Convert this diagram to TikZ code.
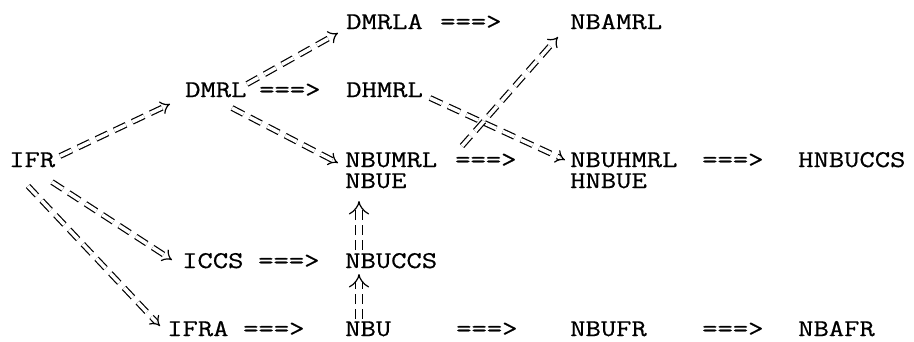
\documentclass[tikz,border=0pt]{standalone}
\usepackage{fontspec}
\newfontfamily\twfont[FakeStretch=1.24,FakeBold=0.6]{Latin Modern Mono}
\usetikzlibrary{arrows.meta,calc}
\tikzset{
  lbl/.style={anchor=base west, inner sep=0pt, font=\twfont\fontsize{24}{26}\selectfont},
  dbl/.style={draw=black, double=white, double distance=3.5pt, line width=1.2pt,
              dash pattern=on 13pt off 7pt, -{Implies[scale=1.7]}, line cap=butt},
  vdbl/.style={dbl, double distance=6pt, dash pattern=on 10pt off 5pt, -{Implies[scale=2.6]}}
}
\begin{document}
\begin{tikzpicture}[x=1pt,y=-1pt]
\useasboundingbox (0,0) rectangle (914,341);
% row A
\node[lbl] (dmrla) at (346,29) {DMRLA};
\node[lbl] (e2) at (440,29) {===>};
\node[lbl] (nbamrl) at (570,29) {NBAMRL};
% row B
\node[lbl] (dmrl) at (185,97) {DMRL};
\node[lbl] (e1) at (259,97) {===>};
\node[lbl] (dhmrl) at (346,97) {DHMRL};
% row C
\node[lbl] (ifr) at (9,167) {IFR};
\node[lbl] (nbumrl) at (345,167) {NBUMRL};
\node[lbl] (e3) at (455,167) {===>};
\node[lbl] (nbuhmrl) at (570,167) {NBUHMRL};
\node[lbl] (e4) at (702,167) {===>};
\node[lbl] (hnbuccs) at (798,167) {HNBUCCS};
% row D
\node[lbl] (nbue) at (345,188) {NBUE};
\node[lbl] (hnbue) at (570,188) {HNBUE};
% row E
\node[lbl] (iccs) at (182,268) {ICCS};
\node[lbl] (e5) at (258,268) {===>};
\node[lbl] (nbuccs) at (345,268) {NBUCCS};
% row F
\node[lbl] (ifra) at (167,336) {IFRA};
\node[lbl] (e6) at (243,336) {===>};
\node[lbl] (nbu) at (345,336) {NBU};
\node[lbl] (e7) at (456,336) {===>};
\node[lbl] (nbufr) at (570,336) {NBUFR};
\node[lbl] (e8) at (702,336) {===>};
\node[lbl] (nbafr) at (798,336) {NBAFR};
% double dashed arrows
\draw[dbl] ($(ifr.base west)+(51,-11)$) -- ($(dmrl.base west)+(-15,7)$);
\draw[dbl] ($(dmrl.base west)+(62,-13)$) -- ($(dmrla.base west)+(-8,4)$);
\draw[dbl] ($(dmrl.base west)+(47,11)$) -- ($(nbumrl.base west)+(-7,-4)$);
\draw[dbl] ($(dhmrl.base west)+(84,1)$) -- ($(nbuhmrl.base west)+(-5,-7)$);
\draw[dbl] ($(nbumrl.base west)+(117,-21)$) -- ($(nbamrl.base west)+(-12,8)$);
\draw[dbl] ($(ifr.base west)+(43,15)$) -- ($(iccs.base west)+(-10,-8)$);
\draw[dbl] ($(ifr.base west)+(19,19)$) -- ($(ifra.base west)+(-7,-10)$);
\draw[vdbl] ($(nbuccs.base west)+(14,-18)$) -- ($(nbue.base west)+(14,13)$);
\draw[vdbl] ($(nbu.base west)+(14,-17)$) -- ($(nbuccs.base west)+(14,6)$);
\end{tikzpicture}
\end{document}
